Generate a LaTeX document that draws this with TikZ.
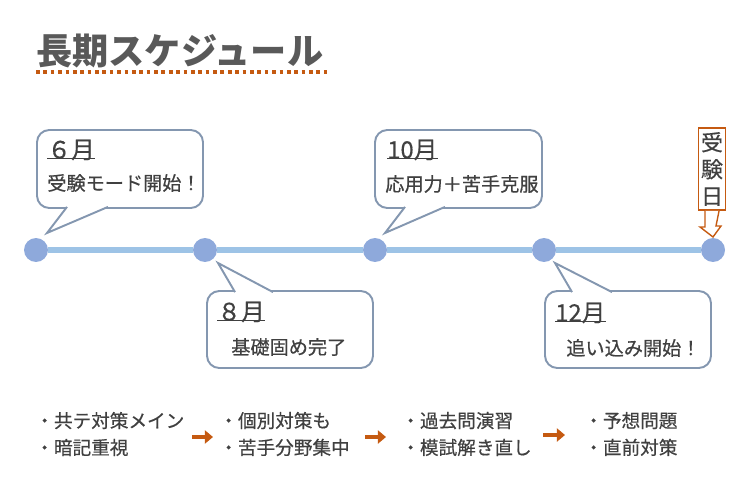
\documentclass[tikz,border=0pt]{standalone}
\usepackage{fontspec}
\setmainfont{Noto Sans CJK JP}
\newfontfamily\jpmid{Noto Sans CJK JP}[FakeBold=0.5]
\usetikzlibrary{arrows.meta}
\definecolor{txtG}{RGB}{64,64,64}
\definecolor{ttlG}{RGB}{89,89,89}
\definecolor{figO}{RGB}{197,90,17}
\definecolor{lineB}{RGB}{157,195,230}
\definecolor{dotB}{RGB}{142,169,219}
\definecolor{boxB}{RGB}{132,151,176}

\begin{document}
\begin{tikzpicture}[x=0.02cm,y=-0.02cm,>=stealth,
  dot/.style={circle,fill=dotB,minimum size=0.48cm,inner sep=0pt},
  bubble/.style={draw=boxB,line width=1.1pt,rounded corners=7pt,fill=white},
  tail/.style={draw=boxB,line width=1.1pt,fill=white,line join=miter},
  month/.style={font=\jpmid\fontsize{13.5}{15}\selectfont,text=txtG,anchor=west,inner sep=0pt},
  uline/.style={txtG,line width=0.8pt},
  body/.style={font=\jpmid\fontsize{10.9}{13}\selectfont,text=txtG,anchor=west,inner sep=0pt},
  todo/.style={font=\jpmid\fontsize{10.6}{15.3}\selectfont,text=txtG,anchor=west,inner sep=0pt,align=left},
  nextarr/.style={figO,line width=2.8pt,-{Triangle[width=7.4pt,length=4.6pt]}}]
\useasboundingbox (0,0) rectangle (750,500);

\node[font=\fontsize{20.6}{24}\selectfont\bfseries,text=ttlG,anchor=west,inner sep=0pt] (ttl) at (36,51) {長期スケジュール};
\draw[figO,line width=2pt,dash pattern=on 2.1pt off 2.1pt] (ttl.south west |- 0,72) -- (328,72);

\node[dot] (d1) at (36,250) {};
\node[dot] (d2) at (205,250) {};
\node[dot] (d3) at (375,250) {};
\node[dot] (d4) at (544,250) {};
\node[dot] (d5) at (713,250) {};
\draw[lineB,line width=3pt] (d1) -- (d2) (d2) -- (d3) (d3) -- (d4) (d4) -- (d5);

\draw[bubble] (37,130) rectangle (203,208);
\draw[tail] (67,206.9) -- (47,233) -- (108,206.9);
\node[month] (m6) at (47,150) {６月};
\draw[uline] ([yshift=1.3pt]m6.south west) -- ([yshift=1.3pt]m6.south east);
\node[body] (t6) at (47,183) {受験モード開始！};

\draw[bubble] (375,130) rectangle (542,208);
\draw[tail] (405,206.9) -- (385,233) -- (445,206.9);
\node[month] (m10) at (387,150) {10月};
\draw[uline] ([yshift=1.3pt]m10.south west) -- ([yshift=1.3pt]m10.south east);
\node[body] (t10) at (385,184) {応用力＋苦手克服};

\draw[bubble] (207,291) rectangle (373,368);
\draw[tail] (235,292.1) -- (218,263) -- (273,292.1);
\node[month] (m8) at (217,312) {８月};
\draw[uline] ([yshift=1.3pt]m8.south west) -- ([yshift=1.3pt]m8.south east);
\node[body] (t8) at (231,347) {基礎固め完了};

\draw[bubble] (545,291) rectangle (711,368);
\draw[tail] (572,292.1) -- (555,263) -- (612,292.1);
\node[month] (m12) at (555,313) {12月};
\draw[uline] ([yshift=1.3pt]m12.south west) -- ([yshift=1.3pt]m12.south east);
\node[body] (t12) at (566,348) {追い込み開始！};

\node[draw=figO,line width=1.1pt,fill=white,text=txtG,align=center,inner sep=0pt,
  minimum width=0.54cm,minimum height=1.64cm,font=\jpmid\fontsize{12.5}{15.3}\selectfont] (exam) at (712,169) {受\\験\\日};
\draw[figO,fill=white,line width=0.8pt,line join=miter] ([xshift=-4pt]exam.south) -- ++(0,16) -- ++(-5,0) -- (713,237) -- (721,226) -- (716,226) -- ([xshift=4pt]exam.south);

\node[todo] (s1) at (35,434) {・共テ対策メイン\\・暗記重視};
\node[todo] (s2) at (219,434) {・個別対策も\\・苦手分野集中};
\node[todo] (s3) at (401,434) {・過去問演習\\・模試解き直し};
\node[todo] (s4) at (584,434) {・予想問題\\・直前対策};
\coordinate (a1s) at (192,437);
\coordinate (a1e) at (213,437);
\coordinate (a2s) at (365,437);
\coordinate (a2e) at (386,437);
\coordinate (a3s) at (543,435);
\coordinate (a3e) at (565,435);
\draw[nextarr] (a1s) -- (a1e);
\draw[nextarr] (a2s) -- (a2e);
\draw[nextarr] (a3s) -- (a3e);
\end{tikzpicture}
\end{document}
